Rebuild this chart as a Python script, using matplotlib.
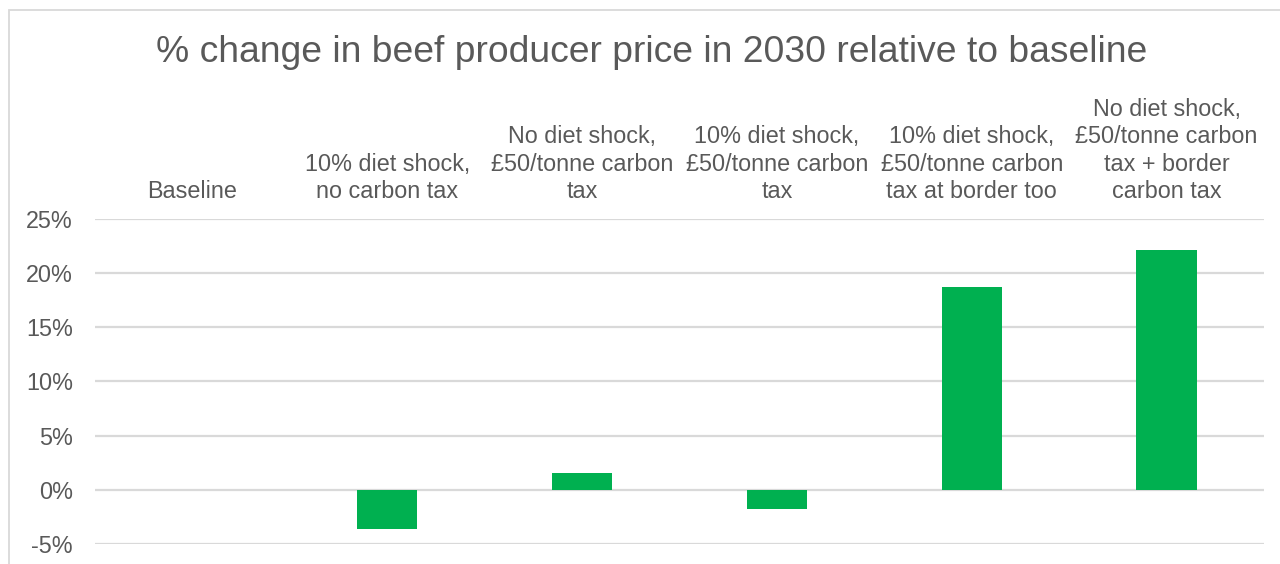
import matplotlib.pyplot as plt
from matplotlib.patches import Rectangle
from matplotlib.ticker import FuncFormatter

plt.rcParams['font.family'] = ['Liberation Sans', 'DejaVu Sans']

scenarios = [
    "Baseline",
    "10% diet shock,\nno carbon tax",
    "No diet shock,\n£50/tonne carbon\ntax",
    "10% diet shock,\n£50/tonne carbon\ntax",
    "10% diet shock,\n£50/tonne carbon\ntax at border too",
    "No diet shock,\n£50/tonne carbon\ntax + border\ncarbon tax",
]
price_change = [0.0, -3.6, 1.57, -1.75, 18.75, 22.15]
yticks = [-5, 0, 5, 10, 15, 20, 25]

text_grey = "#595959"
grid_grey = "#D9D9D9"
bar_green = "#00B050"

fig = plt.figure(figsize=(12.8, 5.64), dpi=100)

# light chart border, open to the right and bottom
fig.patches.append(Rectangle((9 / 1280, -0.1), 1.2, (564 - 10) / 564 + 0.1,
                             transform=fig.transFigure, fill=False,
                             edgecolor=grid_grey, linewidth=1.3))

ax = fig.add_axes([95 / 1280, 20 / 564, 1169 / 1280, 325 / 564])

x = range(len(scenarios))
ax.bar(x, price_change, width=0.31, color=bar_green, zorder=3)

ax.set_xlim(-0.5, len(scenarios) - 0.5)
ax.set_ylim(-5, 25)
ax.set_yticks(yticks)
ax.yaxis.set_major_formatter(FuncFormatter(lambda v, p: f"{v:.0f}%"))
ax.grid(axis="y", color=grid_grey, linewidth=1.6, zorder=0)

# category labels sit above the plot area
ax.xaxis.tick_top()
ax.set_xticks(list(x))
ax.set_xticklabels(scenarios, fontsize=16.8, color=text_grey, linespacing=1.25)
ax.tick_params(axis="x", length=0, pad=11.5)
ax.tick_params(axis="y", length=0, pad=16, labelsize=16.8, labelcolor=text_grey)

for side in ax.spines.values():
    side.set_visible(False)

fig.text(652 / 1280, 1 - 53 / 564, "% change in beef producer price in 2030 relative to baseline",
         ha="center", va="center", fontsize=26.8, color=text_grey)

fig.savefig("out.png", dpi=100)
